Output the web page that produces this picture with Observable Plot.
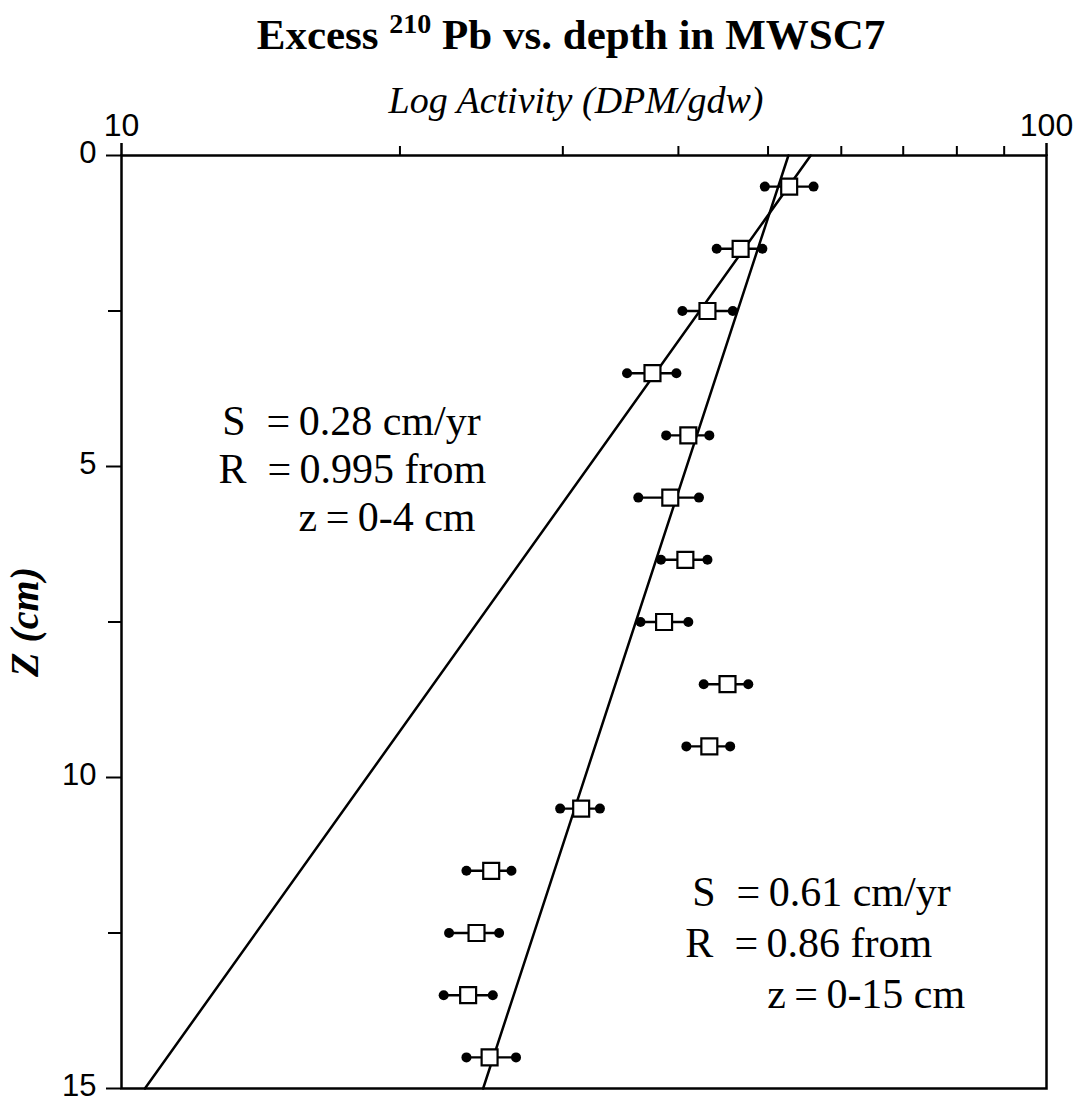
<!DOCTYPE html>
<html>
<head>
<meta charset="utf-8">
<script src="https://cdn.jsdelivr.net/npm/d3@7"></script>
<script src="https://cdn.jsdelivr.net/npm/@observablehq/plot@0.6"></script>
<style>
  html, body { margin: 0; padding: 0; background: white; }
  svg { display: block; }
</style>
</head>
<body>
<svg id="title" width="1078" height="70" xmlns="http://www.w3.org/2000/svg">
  <text x="571" y="49" text-anchor="middle" font-family="'Liberation Serif', 'Times New Roman', serif" font-weight="bold" font-size="43" fill="black">Excess <tspan dy="-16" font-size="28">210</tspan><tspan dy="16"> Pb vs. depth in MWSC7</tspan></text>
</svg>
<div id="chart"></div>
<script>
// ---- data ----
const depth      = [0.5, 1.5, 2.5, 3.5, 4.5, 5.5, 6.5, 7.5, 8.5, 9.5, 10.5, 11.5, 12.5, 13.5, 14.5];
const activity   = [52.7, 46.7, 43.0, 37.5, 41.0, 39.2, 40.7, 38.6, 45.2, 43.2, 31.4, 25.1, 24.2, 23.7, 25.0];
const errLow     = [49.6, 44.0, 40.4, 35.2, 38.8, 36.2, 38.3, 36.4, 42.6, 40.8, 29.8, 23.6, 22.6, 22.3, 23.6];
const errHigh    = [56.0, 49.3, 45.8, 39.8, 43.2, 42.1, 43.0, 41.0, 47.6, 45.5, 32.9, 26.4, 25.6, 25.2, 26.7];

// regression lines (end points at z = 0 and z = 15 cm)
const fitDepth   = [0, 15];
const fitA       = [55.6, 10.6];   // S = 0.28 cm/yr, fit over 0-4 cm
const fitB       = [52.6, 24.6];   // S = 0.61 cm/yr, fit over 0-15 cm

// axis ticks
const xMajorTicks = [10, 100];
const xMinorTicks = [20, 30, 40, 50, 60, 70, 80, 90];
const yMajorTicks = [0, 5, 10, 15];
const yMinorTicks = [2.5, 7.5, 12.5];

// labels
const xLabel = "Log Activity (DPM/gdw)";
const yLabel = "Z (cm)";

// annotation lines
const noteText  = ["S\u2002=\u20090.28 cm/yr", "R\u2002=\u20090.995 from", "z\u2009=\u20090-4 cm",
                   "S\u2002=\u20090.61 cm/yr", "R\u2002=\u20090.86 from", "z\u2009=\u20090-15 cm"];
const noteX     = [12.85, 12.73, 15.54, 41.4, 40.7, 49.9];
const noteDepth = [4.50, 5.26, 6.03, 12.06, 12.89, 13.70];

// ---- build tables ----
const points = depth.map((d, i) => ({depth: d, value: activity[i], lo: errLow[i], hi: errHigh[i]}));
const lineA = fitDepth.map((d, i) => ({depth: d, value: fitA[i]}));
const lineB = fitDepth.map((d, i) => ({depth: d, value: fitB[i]}));
const notes = noteText.map((t, i) => ({text: t, x: noteX[i], depth: noteDepth[i]}));

const serif = "'Liberation Serif', 'Times New Roman', serif";
const sans = "'Liberation Sans', Arial, Helvetica, sans-serif";

const chart = Plot.plot({
  width: 1078,
  height: 1033,
  marginTop: 85,
  marginRight: 32,
  marginBottom: 15,
  marginLeft: 121,
  x: {type: "log", domain: [10, 100]},
  y: {domain: [0, 15], reverse: true},
  style: {fontFamily: sans, fontSize: "31px", color: "black", background: "white", overflow: "visible"},
  marks: [
    Plot.axisX({ticks: xMajorTicks, anchor: "top", tickSize: 13, tickPadding: 7,
      tickFormat: d => String(d), fontSize: 32, strokeWidth: 2.5, label: null}),
    Plot.axisX({ticks: xMinorTicks, anchor: "top", tickSize: 10,
      tickFormat: () => "", strokeWidth: 2, label: null}),
    Plot.axisY({ticks: yMajorTicks, anchor: "left", tickSize: 15,
      tickFormat: () => "", strokeWidth: 2, label: null}),
    Plot.axisY({ticks: yMajorTicks, anchor: "left", tickSize: 0, tickPadding: 25,
      tickFormat: d => String(d), fontSize: 31, dy: -2, label: null}),
    Plot.axisY({ticks: yMinorTicks, anchor: "left", tickSize: 13,
      tickFormat: () => "", strokeWidth: 2, label: null}),
    Plot.text([xLabel], {frameAnchor: "top", textAnchor: "middle", dx: -8, dy: -55, lineAnchor: "middle",
      fontFamily: serif, fontStyle: "italic", fontSize: 38}),
    Plot.text([yLabel], {frameAnchor: "left", textAnchor: "middle", lineAnchor: "middle", dx: -96, rotate: -90,
      fontFamily: serif, fontStyle: "italic", fontWeight: "bold", fontSize: 40}),
    Plot.line(lineA, {x: "value", y: "depth", stroke: "black", strokeWidth: 2.5}),
    Plot.line(lineB, {x: "value", y: "depth", stroke: "black", strokeWidth: 2.5}),
    Plot.ruleY(points, {y: "depth", x1: "lo", x2: "hi", stroke: "black", strokeWidth: 2.4}),
    Plot.dot(points, {x: "lo", y: "depth", r: 5, fill: "black", stroke: "none"}),
    Plot.dot(points, {x: "hi", y: "depth", r: 5, fill: "black", stroke: "none"}),
    Plot.dot(points, {x: "value", y: "depth", symbol: "square", r: 9, fill: "white",
      stroke: "black", strokeWidth: 2.2}),
    Plot.text(notes, {x: "x", y: "depth", text: "text", textAnchor: "start", lineAnchor: "bottom",
      fontFamily: serif, fontSize: 42, fill: "black"}),
    Plot.frame({stroke: "black", strokeWidth: 2.5})
  ]
});
document.getElementById("chart").appendChild(chart);
</script>
</body>
</html>
